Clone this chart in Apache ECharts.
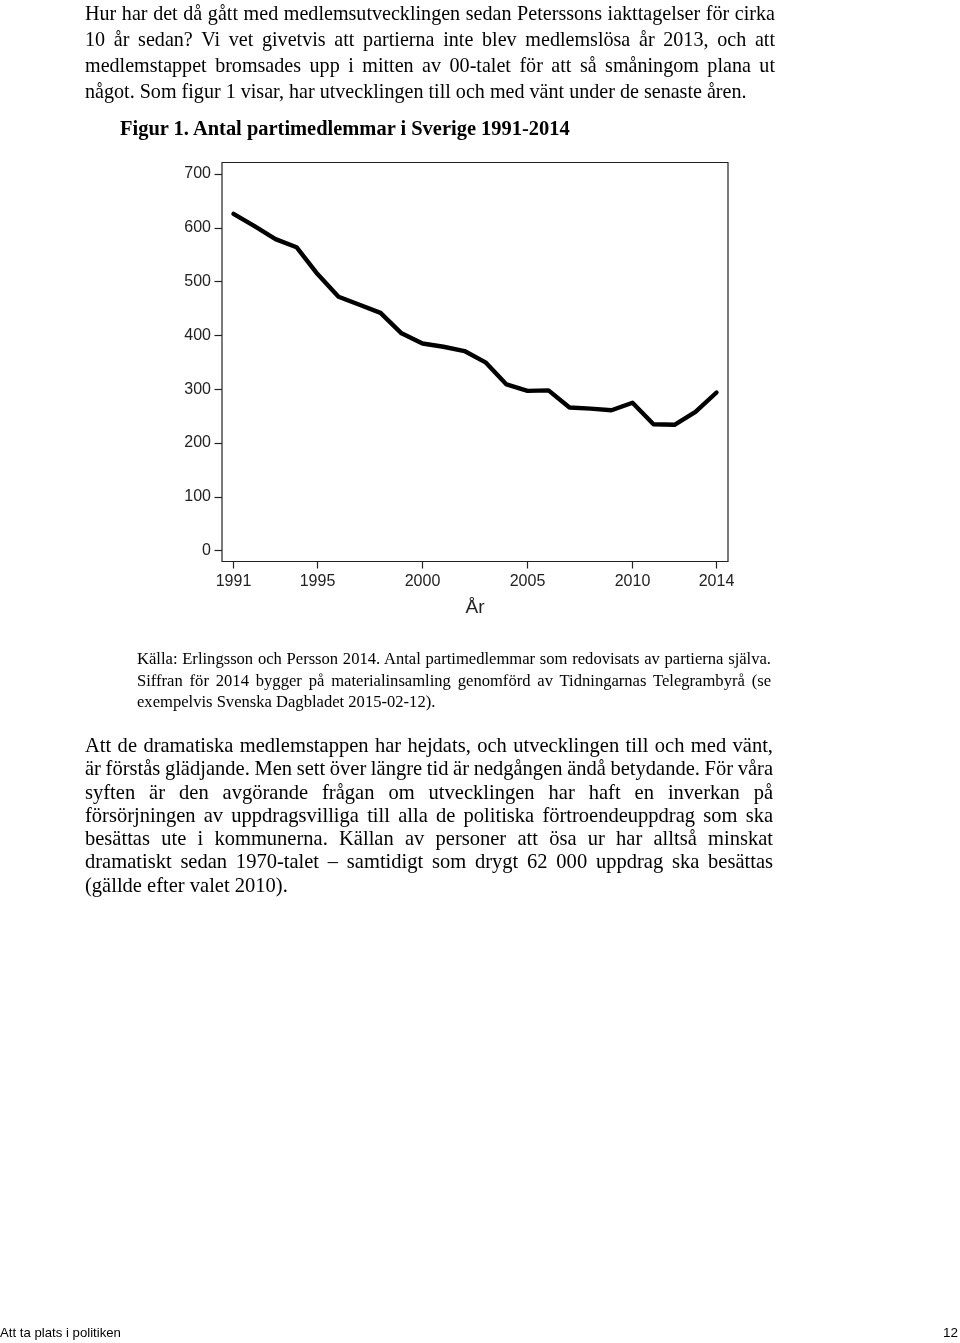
<!DOCTYPE html>
<html>
<head>
<meta charset="utf-8">
<script src="https://cdn.jsdelivr.net/npm/echarts@6/dist/echarts.min.js"></script>
<style>
  html, body { margin: 0; padding: 0; background: #fff; }
  #page { position: relative; width: 960px; height: 1343px; overflow: hidden; }
  #chart { position: absolute; left: 0; top: 0; width: 960px; height: 1343px; }
  .ln { position: absolute; white-space: nowrap; color: #000; }
</style>
</head>
<body>
<div id="page">
  <div id="chart"></div>
</div>
<script>
// ---- data ----
const years = [1991,1992,1993,1994,1995,1996,1997,1998,1999,2000,2001,2002,2003,2004,2005,2006,2007,2008,2009,2010,2011,2012,2013,2014];
const members = [626,603,579,564,514,472,457,442,404,385,379,371,350,309,297,298,266,264,261,275,235,234,258,294];
const xTicks = [1991,1995,2000,2005,2010,2014];
const yTicks = [0,100,200,300,400,500,600,700];
const xAxisName = 'År';

// ---- chart ----
const chart = echarts.init(document.getElementById('chart'), null, { renderer: 'canvas' });
const labelFont = { fontFamily: 'Liberation Sans, Arial, sans-serif', fontSize: 16, color: '#222' };
chart.setOption({
  animation: false,
  grid: {
    show: true, left: 222, top: 162.5, width: 506, height: 399,
    borderColor: '#222', borderWidth: 1.2, backgroundColor: 'transparent'
  },
  xAxis: {
    type: 'value', min: 1990.452, max: 2014.548,
    name: xAxisName, nameLocation: 'middle', nameGap: 37,
    nameTextStyle: { fontFamily: 'Liberation Sans, Arial, sans-serif', fontSize: 19, color: '#222' },
    axisLine: { show: false, onZero: false },
    axisTick: { show: true, length: 7, customValues: xTicks, lineStyle: { color: '#222', width: 1.2 } },
    axisLabel: Object.assign({ customValues: xTicks, margin: 12, formatter: v => String(v) }, labelFont),
    splitLine: { show: false }
  },
  yAxis: {
    type: 'value', min: -20.07, max: 721.4,
    axisLine: { show: false, onZero: false },
    axisTick: { show: true, length: 7.5, customValues: yTicks, lineStyle: { color: '#222', width: 1.2 } },
    axisLabel: Object.assign({ customValues: yTicks, margin: 11 }, labelFont),
    splitLine: { show: false }
  },
  series: [{
    type: 'line',
    data: years.map((y, i) => [y, members[i]]),
    showSymbol: false, symbol: 'none',
    lineStyle: { color: '#000', width: 4.4, join: 'round', cap: 'round' }
  }]
});

// ---- surrounding text ----
const page = document.getElementById('page');
function makeLine(text, font, size, weight) {
  const d = document.createElement('div');
  d.className = 'ln';
  d.textContent = text;
  d.style.fontFamily = font;
  d.style.fontSize = size + 'px';
  d.style.fontWeight = weight || 'normal';
  d.style.lineHeight = '1';
  page.appendChild(d);
  return d;
}
function measure(text, font, size, weight) {
  const d = makeLine(text, font, size, weight);
  const w = d.getBoundingClientRect().width;
  page.removeChild(d);
  return w;
}
function group(cfg) {
  const base = 20;
  const cal = cfg.lines[cfg.calIdx];
  const w = measure(cal[0], cfg.font, base, cfg.weight);
  const size = base * cfg.calWidth / w;
  cfg.lines.forEach(([text, yc, just]) => {
    const d = makeLine(text, cfg.font, size, cfg.weight);
    d.style.top = (yc - size / 2) + 'px';
    if (cfg.alignRight) {
      d.style.left = (cfg.right - d.getBoundingClientRect().width) + 'px';
    } else {
      d.style.left = cfg.left + 'px';
    }
    if (just) {
      const nat = d.getBoundingClientRect().width;
      const n = (text.match(/ /g) || []).length;
      if (n > 0) d.style.wordSpacing = ((cfg.right - cfg.left - nat) / n) + 'px';
    }
  });
}
const serif = '"Liberation Serif", "Times New Roman", serif';
const sans = '"Liberation Sans", Arial, sans-serif';

group({ font: serif, left: 85, right: 775, calIdx: 0, calWidth: 684, lines: [
  ['Hur har det då gått med medlemsutvecklingen sedan Peterssons iakttagelser för cirka', 13, true],
  ['10 år sedan? Vi vet givetvis att partierna inte blev medlemslösa år 2013, och att', 39, true],
  ['medlemstappet bromsades upp i mitten av 00-talet för att så småningom plana ut', 65, true],
  ['något. Som figur 1 visar, har utvecklingen till och med vänt under de senaste åren.', 91, false]
]});
group({ font: serif, weight: 'bold', left: 120, right: 570, calIdx: 0, calWidth: 450, lines: [
  ['Figur 1. Antal partimedlemmar i Sverige 1991-2014', 128, false]
]});
group({ font: serif, left: 137, right: 771, calIdx: 0, calWidth: 628, lines: [
  ['Källa: Erlingsson och Persson 2014. Antal partimedlemmar som redovisats av partierna själva.', 659, true],
  ['Siffran för 2014 bygger på materialinsamling genomförd av Tidningarnas Telegrambyrå (se', 681, true],
  ['exempelvis Svenska Dagbladet 2015-02-12).', 702, false]
]});
group({ font: serif, left: 85, right: 773, calIdx: 6, calWidth: 203, lines: [
  ['Att de dramatiska medlemstappen har hejdats, och utvecklingen till och med vänt,', 745, true],
  ['är förstås glädjande. Men sett över längre tid är nedgången ändå betydande. För våra', 768, true],
  ['syften är den avgörande frågan om utvecklingen har haft en inverkan på', 792, true],
  ['försörjningen av uppdragsvilliga till alla de politiska förtroendeuppdrag som ska', 815, true],
  ['besättas ute i kommunerna. Källan av personer att ösa ur har alltså minskat', 838, true],
  ['dramatiskt sedan 1970-talet – samtidigt som drygt 62 000 uppdrag ska besättas', 861, true],
  ['(gällde efter valet 2010).', 885, false]
]});
group({ font: sans, left: 0, right: 121, calIdx: 0, calWidth: 121, lines: [
  ['Att ta plats i politiken', 1333, false]
]});
group({ font: sans, left: 943, right: 958, alignRight: true, calIdx: 0, calWidth: 15, lines: [
  ['12', 1333, false]
]});
</script>
</body>
</html>
